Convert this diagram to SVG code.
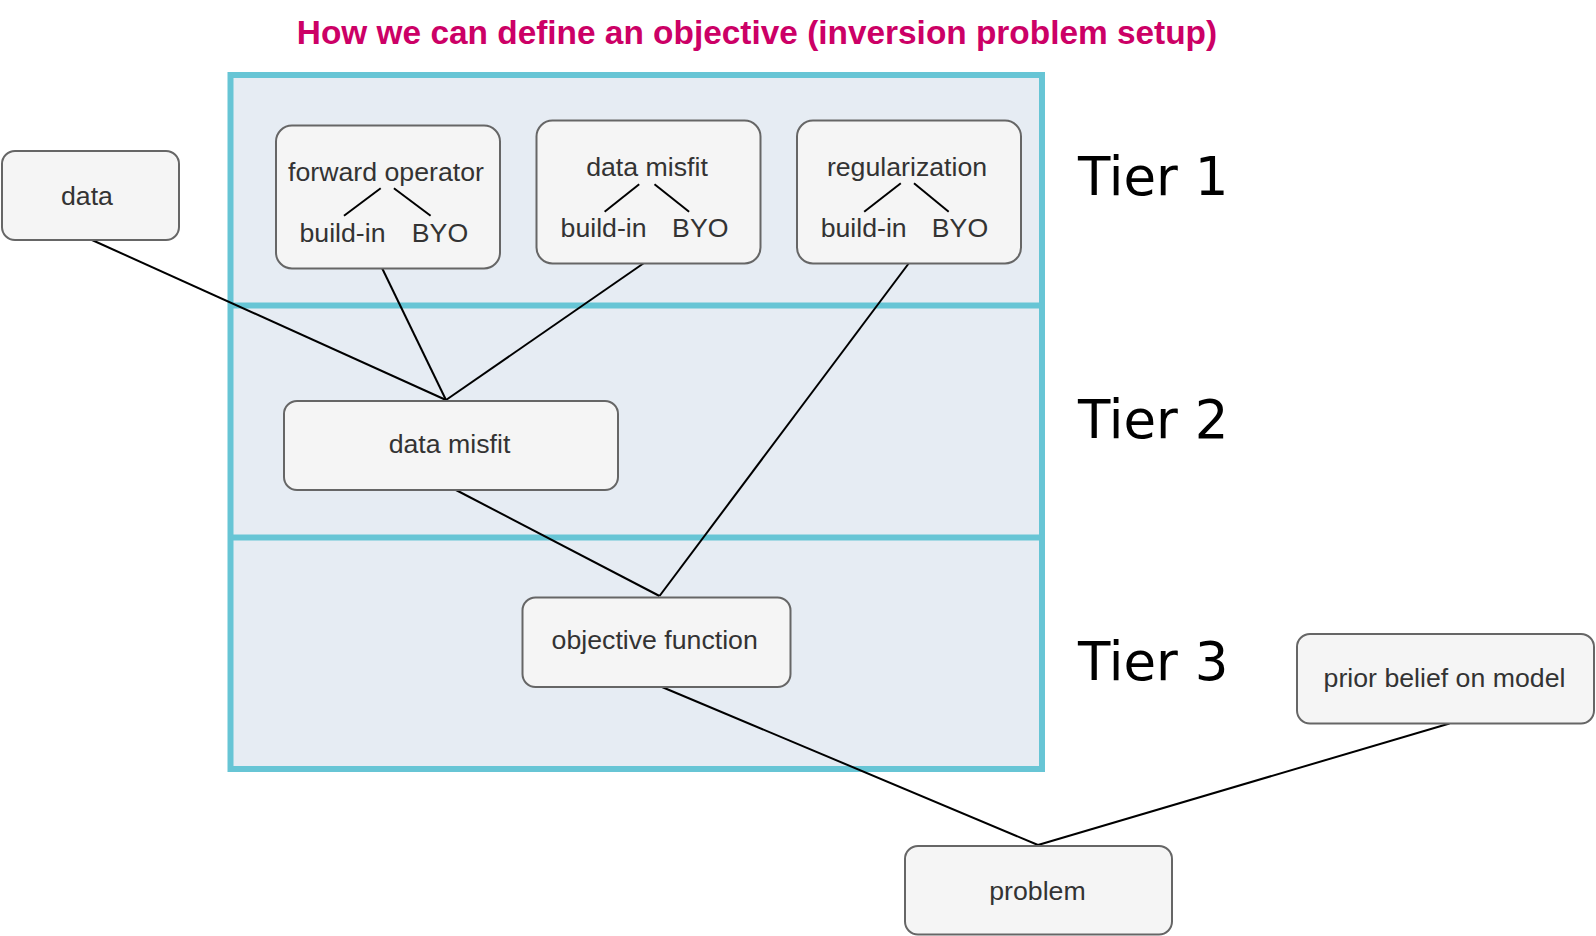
<svg xmlns="http://www.w3.org/2000/svg" width="1596" height="936" viewBox="0 0 1596 936">
<style>
.node{fill:#f5f5f5;stroke:#666666;stroke-width:2}
.lbl{font-family:"Liberation Sans",Arial,sans-serif;font-size:26.7px;fill:#333333;text-anchor:middle}
.tier{font-family:"DejaVu Sans",sans-serif;font-size:53px;fill:#000000}
.edge{stroke:#000000;stroke-width:2;fill:none}
.sub{stroke:#000000;stroke-width:2;fill:none}
.divider{stroke:#67c5d5;stroke-width:6}
</style>
<rect width="1596" height="936" fill="#ffffff"/>
<text x="757" y="44" font-family="'Liberation Sans',Arial,sans-serif" font-size="33.4" font-weight="bold" fill="#cc0066" text-anchor="middle">How we can define an objective (inversion problem setup)</text>
<g id="container">
<rect x="230.5" y="75" width="811.5" height="694" fill="#e6ecf3" stroke="#67c5d5" stroke-width="6"/>
<line class="divider" x1="230.5" y1="305.5" x2="1042" y2="305.5"/>
<line class="divider" x1="230.5" y1="537.5" x2="1042" y2="537.5"/>
</g>
<g id="tiers">
<text class="tier" x="1078" y="195">Tier 1</text>
<text class="tier" x="1078" y="438">Tier 2</text>
<text class="tier" x="1078" y="680">Tier 3</text>
</g>
<g id="connectors">
<line class="edge" x1="92" y1="240" x2="446" y2="400"/>
<line class="edge" x1="382" y1="268" x2="446" y2="400"/>
<line class="edge" x1="644" y1="263" x2="446" y2="400"/>
<line class="edge" x1="909" y1="263" x2="659.5" y2="596"/>
<line class="edge" x1="455" y1="489.5" x2="659.5" y2="596"/>
<line class="edge" x1="662" y1="687" x2="1038" y2="845"/>
<line class="edge" x1="1449.5" y1="723.5" x2="1038" y2="845"/>
</g>
<g id="data">
<rect class="node" x="2" y="151" width="177" height="89" rx="13"/>
<text class="lbl" x="87" y="205">data</text>
</g>
<g id="forward-operator">
<rect class="node" x="276" y="125.5" width="224" height="143" rx="16"/>
<text class="lbl" x="386" y="181">forward operator</text>
<line class="sub" x1="344" y1="215.8" x2="380.7" y2="188.3"/>
<line class="sub" x1="393.9" y1="188.3" x2="430.6" y2="215.8"/>
<text class="lbl" x="342.5" y="242">build-in</text>
<text class="lbl" x="440" y="242">BYO</text>
</g>
<g id="data-misfit-1">
<rect class="node" x="536.5" y="120.5" width="224" height="143" rx="16"/>
<text class="lbl" x="647" y="176">data misfit</text>
<line class="sub" x1="604.6" y1="211.7" x2="639.2" y2="184.2"/>
<line class="sub" x1="654.5" y1="184.2" x2="689.1" y2="211.7"/>
<text class="lbl" x="603.6" y="237">build-in</text>
<text class="lbl" x="700.3" y="237">BYO</text>
</g>
<g id="regularization">
<rect class="node" x="797" y="120.5" width="224" height="143" rx="16"/>
<text class="lbl" x="907" y="176">regularization</text>
<line class="sub" x1="864.2" y1="211.7" x2="900.8" y2="183.2"/>
<line class="sub" x1="914" y1="183.2" x2="948.7" y2="211.7"/>
<text class="lbl" x="863.7" y="236.5">build-in</text>
<text class="lbl" x="960" y="236.5">BYO</text>
</g>
<g id="data-misfit-2">
<rect class="node" x="284" y="401" width="334" height="89" rx="13"/>
<text class="lbl" x="449.5" y="453">data misfit</text>
</g>
<g id="objective-function">
<rect class="node" x="522.5" y="597.5" width="268" height="89.5" rx="13"/>
<text class="lbl" x="654.7" y="648.5">objective function</text>
</g>
<g id="prior-belief">
<rect class="node" x="1297" y="634" width="297" height="89.5" rx="13"/>
<text class="lbl" x="1444.5" y="687">prior belief on model</text>
</g>
<g id="problem">
<rect class="node" x="905" y="846" width="267" height="88.5" rx="13"/>
<text class="lbl" x="1037.5" y="900">problem</text>
</g>
</svg>
